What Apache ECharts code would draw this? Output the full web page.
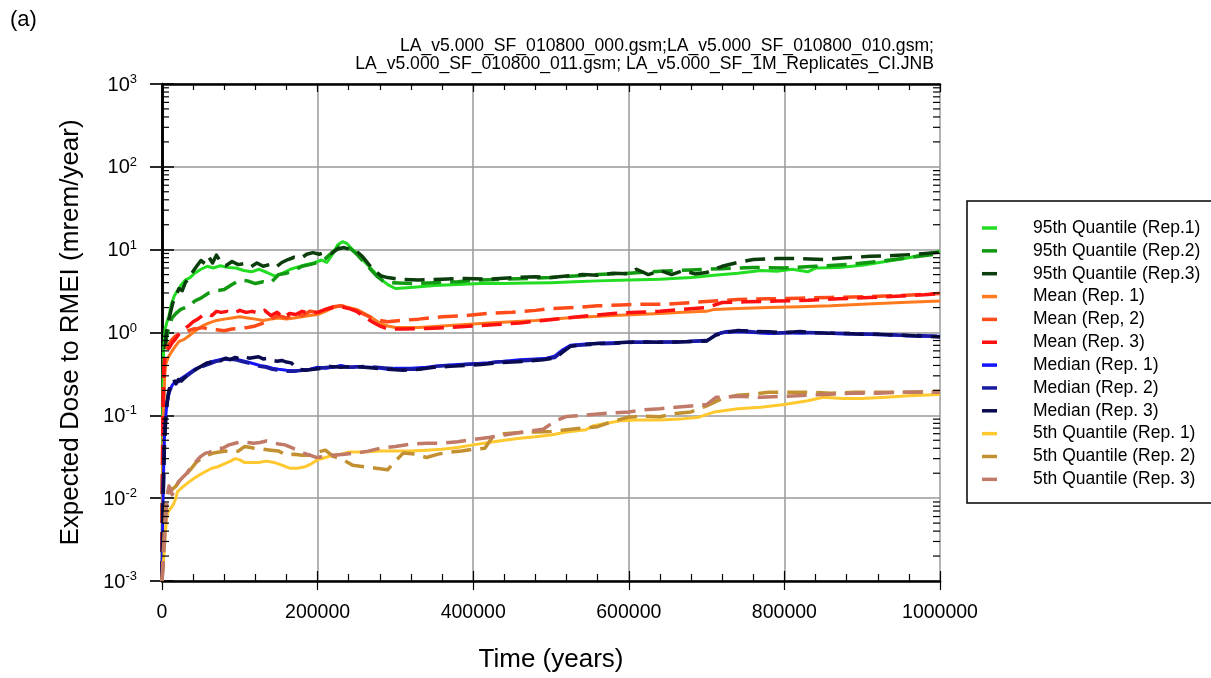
<!DOCTYPE html>
<html>
<head>
<meta charset="utf-8">
<title>Expected Dose to RMEI</title>
<script src="https://cdn.jsdelivr.net/npm/echarts@6/dist/echarts.min.js"></script>
<style>
  html, body { margin: 0; padding: 0; background: #ffffff; }
  #chart { width: 1211px; height: 678px; }
</style>
</head>
<body>
<div id="chart"></div>
<script>
// Series labels, in legend order
const seriesNames = [
  '95th Quantile (Rep.1)', '95th Quantile (Rep.2)', '95th Quantile (Rep.3)',
  'Mean (Rep. 1)', 'Mean (Rep, 2)', 'Mean (Rep. 3)',
  'Median (Rep. 1)', 'Median (Rep. 2)', 'Median (Rep. 3)',
  '5th Quantile (Rep. 1)', '5th Quantile (Rep. 2)', '5th Quantile (Rep. 3)'
];

// [time (years), dose (mrem/year)]
const q95Rep1 = [[0,0.001],[1000,0.2],[2000,0.6],[4000,1.1],[6000,1.3],[9000,1.6],[12000,2.2],[16000,2.8],[20000,3.2],[25000,3.8],[30000,4.3],[36000,4.6],[42000,5.2],[50000,5.8],[58000,6.3],[66000,6.0],[75000,6.4],[85000,6.1],[95000,6.0],[105000,5.6],[115000,5.4],[125000,5.8],[135000,5.3],[145000,4.8],[155000,5.2],[165000,5.8],[175000,6.2],[185000,6.6],[195000,6.9],[205000,7.5],[212000,7.0],[220000,9.0],[226000,11.5],[232000,12.5],[238000,11.8],[245000,10.0],[252000,9.0],[260000,7.2],[268000,6.0],[276000,5.0],[284000,4.2],[292000,3.7],[300000,3.4],[320000,3.5],[350000,3.7],[380000,3.8],[410000,3.9],[440000,3.9],[470000,3.95],[500000,4.0],[530000,4.1],[560000,4.2],[600000,4.3],[640000,4.4],[680000,4.6],[710000,4.9],[740000,5.2],[770000,5.6],[790000,5.5],[810000,5.8],[830000,5.4],[840000,6.0],[870000,6.1],[900000,6.5],[930000,7.2],[960000,8.0],[980000,8.8],[1000000,9.6]];
const q95Rep2 = [[0,0.001],[1500,0.15],[3000,0.5],[6000,0.9],[9000,1.2],[13000,1.5],[18000,1.7],[24000,1.9],[30000,2.0],[36000,2.1],[42000,2.4],[50000,2.6],[60000,3.0],[70000,3.2],[80000,3.3],[90000,3.8],[100000,4.3],[110000,4.2],[120000,3.9],[130000,4.1],[140000,4.0],[150000,5.0],[160000,5.2],[170000,5.6],[180000,6.3],[190000,6.6],[200000,7.0],[210000,7.8],[220000,9.5],[228000,11.0],[236000,11.2],[244000,10.0],[252000,8.5],[260000,7.0],[268000,5.8],[276000,4.8],[284000,4.2],[295000,4.0],[320000,3.9],[350000,4.0],[380000,4.1],[410000,4.3],[440000,4.4],[470000,4.5],[500000,4.6],[530000,4.8],[560000,5.0],[600000,5.2],[640000,5.5],[680000,5.7],[720000,5.9],[760000,6.1],[800000,6.0],[840000,6.3],[880000,6.6],[920000,7.2],[960000,8.0],[1000000,9.0]];
const q95Rep3 = [[0,0.001],[1000,0.05],[2000,0.2],[3500,0.5],[5000,0.9],[7000,1.2],[10000,1.6],[14000,2.3],[18000,2.8],[22000,3.4],[26000,3.2],[30000,4.0],[35000,4.6],[40000,5.5],[45000,6.4],[50000,7.4],[55000,6.8],[60000,8.2],[65000,6.9],[70000,8.6],[76000,7.0],[82000,6.4],[90000,7.2],[98000,6.6],[106000,6.8],[114000,6.2],[122000,6.9],[130000,6.3],[138000,6.6],[146000,6.1],[154000,7.0],[162000,7.6],[170000,8.1],[178000,7.8],[186000,8.8],[194000,9.2],[202000,8.8],[210000,9.3],[218000,9.0],[226000,10.2],[234000,10.6],[242000,10.0],[250000,9.6],[258000,8.2],[266000,6.6],[274000,5.5],[282000,4.8],[290000,4.6],[305000,4.4],[330000,4.3],[360000,4.4],[390000,4.5],[420000,4.4],[450000,4.6],[480000,4.7],[500000,4.6],[520000,4.8],[540000,5.0],[560000,4.9],[580000,5.2],[600000,5.1],[610000,5.8],[625000,5.0],[640000,5.6],[655000,5.0],[670000,5.6],[685000,5.1],[700000,5.3],[720000,6.3],[740000,7.0],[760000,7.6],[790000,7.8],[820000,7.8],[850000,7.6],[880000,8.0],[910000,8.3],[940000,8.5],[970000,8.8],[1000000,9.3]];
const meanRep1 = [[0,0.001],[1000,0.03],[2000,0.12],[3500,0.3],[5000,0.42],[8000,0.5],[12000,0.58],[17000,0.68],[22000,0.78],[28000,0.82],[34000,0.9],[40000,1.0],[46000,1.1],[52000,1.2],[60000,1.3],[70000,1.4],[80000,1.45],[90000,1.5],[100000,1.55],[110000,1.5],[120000,1.45],[130000,1.4],[140000,1.45],[150000,1.5],[160000,1.45],[170000,1.5],[180000,1.55],[190000,1.6],[200000,1.65],[210000,1.8],[220000,2.0],[230000,2.1],[240000,2.0],[250000,1.9],[260000,1.7],[270000,1.5],[280000,1.3],[290000,1.2],[300000,1.15],[330000,1.15],[360000,1.2],[390000,1.25],[420000,1.3],[450000,1.35],[480000,1.4],[500000,1.45],[520000,1.5],[550000,1.55],[580000,1.6],[610000,1.65],[640000,1.7],[670000,1.75],[700000,1.8],[710000,1.9],[740000,1.95],[780000,2.0],[820000,2.05],[860000,2.1],[900000,2.2],[950000,2.3],[1000000,2.4]];
const meanRep2 = [[0,0.001],[1000,0.05],[2000,0.2],[3500,0.45],[5000,0.6],[8000,0.7],[12000,0.8],[17000,0.9],[22000,0.95],[28000,1.0],[34000,1.05],[40000,1.1],[46000,1.12],[52000,1.15],[60000,1.1],[70000,1.08],[80000,1.05],[90000,1.1],[100000,1.12],[110000,1.15],[120000,1.2],[130000,1.3],[140000,1.45],[150000,1.6],[160000,1.5],[170000,1.7],[180000,1.6],[190000,1.8],[200000,1.75],[210000,1.9],[220000,2.05],[230000,2.1],[240000,2.0],[250000,1.85],[260000,1.65],[270000,1.5],[280000,1.4],[290000,1.35],[300000,1.38],[330000,1.45],[360000,1.55],[390000,1.6],[420000,1.7],[450000,1.75],[480000,1.85],[500000,1.95],[530000,2.0],[560000,2.1],[590000,2.15],[620000,2.2],[650000,2.2],[680000,2.3],[710000,2.4],[740000,2.5],[780000,2.55],[820000,2.6],[860000,2.65],[900000,2.7],[950000,2.8],[1000000,2.95]];
const meanRep3 = [[0,0.001],[800,0.05],[1600,0.2],[2500,0.4],[4000,0.55],[6000,0.6],[9000,0.65],[13000,0.75],[18000,0.85],[23000,1.0],[28000,1.1],[34000,1.2],[40000,1.35],[46000,1.45],[52000,1.6],[58000,1.7],[64000,1.6],[70000,1.8],[76000,1.75],[84000,1.8],[92000,1.7],[100000,1.85],[108000,1.75],[116000,1.8],[124000,1.7],[132000,1.85],[140000,1.6],[148000,1.75],[156000,1.5],[164000,1.7],[172000,1.65],[180000,1.8],[190000,1.7],[200000,1.75],[210000,1.9],[220000,2.0],[230000,2.05],[240000,1.95],[250000,1.8],[260000,1.55],[270000,1.35],[280000,1.2],[290000,1.1],[310000,1.1],[340000,1.12],[370000,1.15],[400000,1.2],[430000,1.25],[460000,1.3],[490000,1.4],[520000,1.5],[550000,1.6],[580000,1.7],[610000,1.75],[640000,1.8],[670000,1.9],[700000,2.0],[720000,2.3],[750000,2.35],[790000,2.4],[830000,2.45],[870000,2.55],[910000,2.65],[950000,2.75],[980000,2.85],[1000000,2.95]];
const medRep1 = [[0,0.001],[1000,0.006],[2000,0.02],[3000,0.05],[4500,0.09],[6000,0.13],[8000,0.17],[10000,0.2],[13000,0.23],[16000,0.25],[20000,0.26],[25000,0.28],[30000,0.3],[36000,0.33],[42000,0.36],[48000,0.38],[55000,0.41],[62000,0.44],[70000,0.46],[78000,0.48],[86000,0.47],[94000,0.48],[102000,0.46],[110000,0.44],[118000,0.42],[126000,0.40],[134000,0.39],[142000,0.37],[150000,0.36],[160000,0.35],[170000,0.345],[180000,0.35],[190000,0.36],[200000,0.38],[210000,0.37],[220000,0.38],[230000,0.40],[240000,0.38],[250000,0.39],[260000,0.38],[270000,0.38],[280000,0.37],[290000,0.36],[300000,0.37],[320000,0.37],[340000,0.38],[360000,0.40],[380000,0.41],[400000,0.42],[420000,0.43],[440000,0.45],[460000,0.47],[480000,0.48],[495000,0.49],[505000,0.52],[515000,0.62],[525000,0.70],[540000,0.72],[560000,0.74],[580000,0.75],[600000,0.76],[620000,0.77],[640000,0.76],[660000,0.77],[680000,0.78],[700000,0.79],[710000,0.92],[720000,1.0],[740000,1.02],[760000,1.0],[780000,0.97],[800000,0.99],[820000,0.98],[840000,1.0],[860000,0.97],[880000,0.96],[900000,0.95],[920000,0.94],[940000,0.93],[960000,0.91],[980000,0.9],[1000000,0.9]];
const medRep2 = [[0,0.001],[1200,0.008],[2400,0.03],[3500,0.06],[5000,0.1],[7000,0.15],[9000,0.19],[12000,0.22],[16000,0.24],[20000,0.25],[25000,0.27],[30000,0.29],[36000,0.32],[42000,0.35],[48000,0.37],[55000,0.4],[62000,0.42],[70000,0.45],[78000,0.46],[86000,0.48],[94000,0.47],[102000,0.45],[110000,0.43],[118000,0.41],[126000,0.39],[134000,0.38],[142000,0.36],[150000,0.35],[160000,0.34],[170000,0.34],[180000,0.35],[190000,0.36],[200000,0.37],[215000,0.38],[230000,0.39],[245000,0.38],[260000,0.39],[275000,0.38],[290000,0.37],[310000,0.36],[330000,0.36],[350000,0.39],[370000,0.40],[390000,0.41],[410000,0.42],[430000,0.44],[450000,0.45],[470000,0.46],[490000,0.48],[505000,0.5],[515000,0.6],[525000,0.69],[545000,0.71],[565000,0.73],[585000,0.74],[605000,0.76],[625000,0.76],[645000,0.77],[665000,0.77],[685000,0.79],[700000,0.8],[712000,0.95],[725000,1.02],[745000,1.05],[765000,1.01],[785000,0.98],[805000,1.0],[825000,1.0],[845000,0.99],[865000,0.98],[885000,0.97],[905000,0.96],[925000,0.95],[945000,0.93],[965000,0.92],[985000,0.91],[1000000,0.9]];
const medRep3 = [[0,0.001],[1500,0.01],[3000,0.04],[4500,0.08],[6000,0.13],[8000,0.18],[10000,0.22],[12000,0.25],[15000,0.27],[18000,0.24],[21000,0.27],[25000,0.26],[30000,0.29],[35000,0.31],[40000,0.34],[46000,0.37],[52000,0.40],[58000,0.43],[64000,0.44],[70000,0.47],[76000,0.46],[82000,0.49],[88000,0.47],[94000,0.5],[100000,0.48],[106000,0.51],[112000,0.49],[118000,0.50],[124000,0.51],[130000,0.48],[136000,0.49],[142000,0.46],[148000,0.45],[154000,0.46],[160000,0.44],[166000,0.43],[175000,0.36],[185000,0.35],[195000,0.36],[205000,0.37],[215000,0.39],[230000,0.38],[245000,0.39],[260000,0.38],[275000,0.37],[290000,0.36],[310000,0.35],[330000,0.36],[350000,0.38],[370000,0.39],[390000,0.4],[410000,0.41],[430000,0.43],[450000,0.44],[470000,0.45],[490000,0.47],[505000,0.49],[515000,0.58],[525000,0.68],[545000,0.72],[565000,0.74],[585000,0.75],[605000,0.77],[625000,0.77],[645000,0.76],[665000,0.77],[685000,0.78],[700000,0.79],[712000,0.93],[725000,1.0],[740000,1.06],[760000,1.03],[780000,1.02],[800000,1.0],[820000,1.03],[840000,0.99],[860000,0.98],[880000,0.97],[900000,0.95],[920000,0.95],[940000,0.93],[960000,0.92],[980000,0.9],[1000000,0.88]];
const q5Rep1 = [[0,0.001],[1500,0.0015],[3000,0.0025],[4500,0.004],[6000,0.0058],[8000,0.0068],[11000,0.0075],[14000,0.0082],[17000,0.0095],[20000,0.012],[24000,0.013],[28000,0.014],[34000,0.0155],[40000,0.017],[48000,0.019],[56000,0.021],[64000,0.023],[72000,0.024],[80000,0.026],[88000,0.028],[94000,0.030],[100000,0.029],[106000,0.027],[114000,0.027],[124000,0.027],[134000,0.028],[144000,0.027],[154000,0.025],[164000,0.023],[174000,0.023],[184000,0.024],[192000,0.026],[200000,0.029],[210000,0.031],[220000,0.033],[230000,0.034],[240000,0.036],[260000,0.036],[280000,0.037],[300000,0.037],[320000,0.037],[340000,0.038],[360000,0.039],[380000,0.041],[400000,0.044],[420000,0.047],[440000,0.050],[460000,0.053],[480000,0.055],[500000,0.058],[520000,0.063],[545000,0.067],[555000,0.075],[570000,0.080],[590000,0.086],[610000,0.088],[640000,0.088],[665000,0.090],[690000,0.095],[710000,0.11],[740000,0.12],[770000,0.125],[800000,0.135],[830000,0.15],[850000,0.165],[875000,0.16],[900000,0.16],[930000,0.165],[960000,0.172],[1000000,0.178]];
const q5Rep2 = [[0,0.001],[1500,0.002],[3000,0.004],[4500,0.007],[6000,0.010],[8000,0.012],[11000,0.012],[14000,0.013],[18000,0.014],[22000,0.016],[27000,0.018],[32000,0.020],[38000,0.023],[44000,0.027],[50000,0.030],[58000,0.033],[66000,0.035],[74000,0.036],[82000,0.037],[90000,0.036],[98000,0.037],[106000,0.042],[114000,0.041],[122000,0.039],[130000,0.039],[140000,0.038],[150000,0.037],[160000,0.033],[170000,0.034],[180000,0.033],[190000,0.033],[200000,0.036],[210000,0.038],[220000,0.032],[230000,0.030],[245000,0.025],[260000,0.024],[275000,0.023],[290000,0.022],[300000,0.028],[310000,0.035],[325000,0.034],[340000,0.031],[355000,0.034],[370000,0.036],[385000,0.037],[400000,0.039],[415000,0.040],[425000,0.055],[440000,0.060],[460000,0.062],[480000,0.063],[500000,0.064],[520000,0.067],[540000,0.070],[560000,0.073],[580000,0.085],[600000,0.095],[620000,0.098],[640000,0.096],[660000,0.105],[680000,0.11],[700000,0.13],[720000,0.16],[740000,0.175],[760000,0.18],[780000,0.19],[800000,0.19],[830000,0.19],[860000,0.185],[890000,0.19],[920000,0.19],[950000,0.19],[1000000,0.195]];
const q5Rep3 = [[0,0.001],[1500,0.0015],[3000,0.003],[4500,0.005],[6000,0.008],[7500,0.012],[9000,0.014],[11000,0.013],[13000,0.011],[15000,0.012],[18000,0.014],[22000,0.016],[27000,0.018],[32000,0.020],[38000,0.024],[44000,0.028],[50000,0.032],[56000,0.035],[62000,0.036],[70000,0.040],[78000,0.040],[86000,0.044],[94000,0.046],[102000,0.048],[110000,0.047],[118000,0.046],[126000,0.047],[134000,0.049],[142000,0.047],[150000,0.045],[158000,0.044],[166000,0.041],[174000,0.038],[182000,0.035],[190000,0.033],[198000,0.031],[210000,0.032],[220000,0.033],[235000,0.034],[250000,0.035],[265000,0.037],[280000,0.040],[300000,0.042],[320000,0.045],[340000,0.046],[360000,0.046],[380000,0.048],[400000,0.051],[420000,0.054],[440000,0.058],[470000,0.064],[490000,0.068],[505000,0.085],[520000,0.097],[540000,0.1],[560000,0.104],[580000,0.107],[600000,0.11],[620000,0.117],[640000,0.12],[660000,0.125],[680000,0.13],[700000,0.135],[712000,0.165],[740000,0.17],[770000,0.165],[800000,0.17],[830000,0.175],[860000,0.18],[890000,0.185],[920000,0.185],[950000,0.19],[1000000,0.19]];

const seriesData = [q95Rep1, q95Rep2, q95Rep3, meanRep1, meanRep2, meanRep3,
                    medRep1, medRep2, medRep3, q5Rep1, q5Rep2, q5Rep3];

// Line appearance for each series
const lineColors = ['#22dd22', '#119911', '#0c3d0c', '#ff7a1e', '#ff4a1a', '#ff1010',
                    '#1414ff', '#1a1aa0', '#0a0a50', '#ffc82e', '#c29030', '#c27a68'];
const lineDashed = [false, true, true, false, true, true, false, true, true, false, true, true];

const FONT = '"Liberation Sans", Arial, sans-serif';

// Log-axis minor tick values (2..9 in each decade)
const yMinorTicks = [];
for (let e = -3; e < 3; e++) {
  for (let m = 2; m <= 9; m++) yMinorTicks.push([0, m * Math.pow(10, e)]);
}

const chart = echarts.init(document.getElementById('chart'), null, { renderer: 'canvas' });

const lineSeries = seriesNames.map((name, i) => ({
  name: name,
  type: 'line',
  xAxisIndex: 0,
  yAxisIndex: 0,
  data: seriesData[i],
  showSymbol: false,
  symbol: 'none',
  smooth: false,
  z: 3,
  lineStyle: {
    color: lineColors[i],
    width: lineDashed[i] ? 3.5 : 3,
    type: lineDashed[i] ? [20, 9] : 'solid',
    cap: 'butt',
    join: 'round'
  },
  itemStyle: { color: lineColors[i] }
}));

const minorTickSeries = {
  type: 'custom',
  xAxisIndex: 0,
  yAxisIndex: 0,
  silent: true,
  clip: false,
  z: 5,
  data: yMinorTicks,
  renderItem: function (params, api) {
    const p = api.coord([api.value(0), api.value(1)]);
    const cs = params.coordSys;
    const len = 7;
    const st = { stroke: '#000', lineWidth: 1.2 };
    return {
      type: 'group',
      children: [
        { type: 'line', shape: { x1: cs.x, y1: p[1], x2: cs.x + len, y2: p[1] }, style: st },
        { type: 'line', shape: { x1: cs.x + cs.width - len, y1: p[1], x2: cs.x + cs.width, y2: p[1] }, style: st }
      ]
    };
  }
};

const logAxisBase = {
  type: 'log',
  logBase: 10,
  min: 0.001,
  max: 1000,
  splitNumber: 6,
  gridIndex: 0
};
const xAxisBase = {
  type: 'value',
  min: 0,
  max: 1000000,
  interval: 200000,
  gridIndex: 0
};

chart.setOption({
  animation: false,
  backgroundColor: '#ffffff',
  textStyle: { fontFamily: FONT },
  grid: { left: 162, right: 271, top: 84, bottom: 96, containLabel: false },
  graphic: [
    { type: 'text', x: 10, y: 9,
      style: { text: '(a)', font: '22px ' + FONT, fill: '#000' } },
    { type: 'text', x: 934, y: 37,
      style: {
        text: 'LA_v5.000_SF_010800_000.gsm;LA_v5.000_SF_010800_010.gsm;\nLA_v5.000_SF_010800_011.gsm; LA_v5.000_SF_1M_Replicates_CI.JNB',
        font: '17.6px ' + FONT, fill: '#000', textAlign: 'right', lineHeight: 18
      } },
    { type: 'rect', z: 1,
      shape: { x: 967, y: 201, width: 260, height: 302 },
      style: { fill: '#fff', stroke: '#000', lineWidth: 1.5 } }
  ],
  legend: {
    orient: 'vertical',
    left: 982,
    top: 218,
    padding: 0,
    z: 10,
    icon: 'rect',
    itemWidth: 15,
    itemHeight: 3.5,
    itemGap: 2.85,
    data: seriesNames,
    selectedMode: false,
    textStyle: { fontFamily: FONT, fontSize: 17.5, lineHeight: 20, color: '#000', padding: [0, 0, 0, 31] }
  },
  xAxis: [
    Object.assign({}, xAxisBase, {
      position: 'bottom',
      name: 'Time (years)',
      nameLocation: 'middle',
      nameGap: 66,
      nameTextStyle: { fontFamily: FONT, fontSize: 26, color: '#000' },
      axisLine: { show: true, lineStyle: { color: '#000', width: 2.5 } },
      axisTick: { show: true, inside: false, length: 9, lineStyle: { color: '#000', width: 1.2 } },
      axisLabel: {
        show: true, margin: 22, fontFamily: FONT, fontSize: 19.5, color: '#000',
        formatter: function (v) { return String(v); }
      },
      splitLine: { show: true, lineStyle: { color: '#9a9a9a', width: 1.5 } },
      minorTick: { show: false }
    }),
    Object.assign({}, xAxisBase, {
      position: 'bottom',
      axisLine: { show: false },
      axisTick: { show: true, inside: true, length: 10, lineStyle: { color: '#000', width: 1.2 } },
      axisLabel: { show: false },
      splitLine: { show: false },
      minorTick: { show: true, splitNumber: 5, length: 7, lineStyle: { color: '#000', width: 1.2 } }
    }),
    Object.assign({}, xAxisBase, {
      position: 'top',
      axisLine: { show: true, lineStyle: { color: '#000', width: 2.5 } },
      axisTick: { show: true, inside: true, length: 8, lineStyle: { color: '#000', width: 1.2 } },
      axisLabel: { show: false },
      splitLine: { show: false },
      minorTick: { show: true, splitNumber: 5, length: 6, lineStyle: { color: '#000', width: 1.2 } }
    })
  ],
  yAxis: [
    Object.assign({}, logAxisBase, {
      position: 'left',
      name: 'Expected Dose to RMEI (mrem/year)',
      nameLocation: 'middle',
      nameGap: 78,
      nameTextStyle: { fontFamily: FONT, fontSize: 26, color: '#000' },
      axisLine: { show: true, lineStyle: { color: '#000', width: 2.5 } },
      axisTick: { show: true, inside: false, length: 12, lineStyle: { color: '#888', width: 1.5 } },
      axisLabel: {
        show: true,
        margin: 25,
        formatter: function (v) {
          const e = Math.round(Math.log10(v));
          return '{b|10}{s|' + e + '}';
        },
        rich: {
          b: { fontFamily: FONT, fontSize: 20, color: '#000', verticalAlign: 'bottom', lineHeight: 22 },
          s: { fontFamily: FONT, fontSize: 13, color: '#000', verticalAlign: 'top', lineHeight: 22, padding: [0, 0, 9, 0] }
        }
      },
      splitLine: { show: true, lineStyle: { color: '#9a9a9a', width: 1.5 } }
    }),
    Object.assign({}, logAxisBase, {
      position: 'left',
      axisLine: { show: false },
      axisTick: { show: true, inside: true, length: 12, lineStyle: { color: '#000', width: 1.5 } },
      axisLabel: { show: false },
      splitLine: { show: false }
    }),
    Object.assign({}, logAxisBase, {
      position: 'right',
      axisLine: { show: true, lineStyle: { color: '#000', width: 2.5 } },
      axisTick: { show: true, inside: true, length: 12, lineStyle: { color: '#000', width: 1.5 } },
      axisLabel: { show: false },
      splitLine: { show: false }
    })
  ],
  series: lineSeries.concat([minorTickSeries])
});
</script>
</body>
</html>
